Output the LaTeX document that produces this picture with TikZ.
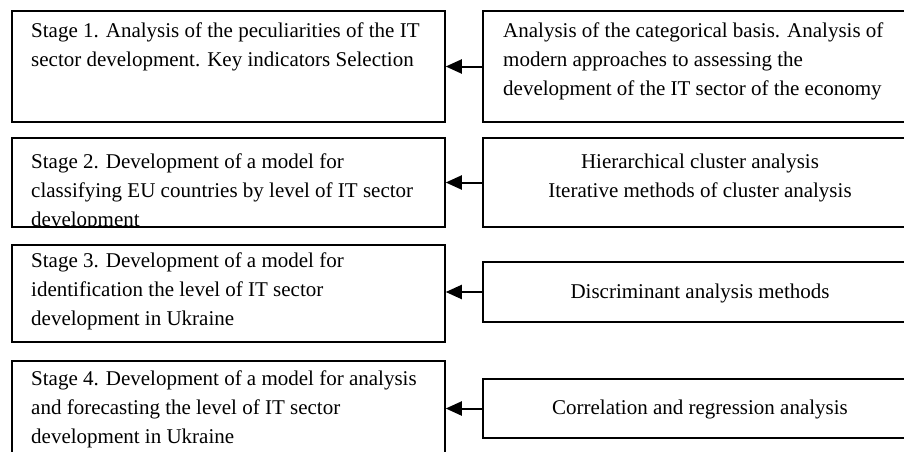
\documentclass[tikz,border=0pt]{standalone}
\usepackage{fontspec}
\setmainfont{Liberation Serif}
\usetikzlibrary{arrows.meta}

\newcommand{\tstrut}{\rule{0pt}{20pt}}

\begin{document}
\begin{tikzpicture}[x=1pt,y=1pt,yscale=-1,
  box/.style={draw, line width=1.5pt, inner sep=0pt},
  txt/.style={inner sep=0pt, font=\fontsize{21}{29}\selectfont},
  link/.style={line width=2pt, -{Triangle[length=16pt,width=14pt]}}]
\useasboundingbox (0,0) rectangle (904,452);
\clip (0,0) rectangle (904,452);

%Stage boxes
\node [box, minimum width=433pt, minimum height=111pt] (s1) at (228.5,66.5) {};
\node [box, minimum width=433pt, minimum height=89pt] (s2) at (228.5,182.5) {};
\node [box, minimum width=433pt, minimum height=97pt] (s3) at (228.5,293.5) {};
\node [box, minimum width=433pt, minimum height=119pt] (s4) at (228.5,420.5) {};
%Method boxes
\node [box, minimum width=434pt, minimum height=111pt] (m1) at (700,66.5) {};
\node [box, minimum width=434pt, minimum height=89pt] (m2) at (700,182.5) {};
\node [box, minimum width=434pt, minimum height=60pt] (m3) at (700,292) {};
\node [box, minimum width=434pt, minimum height=59pt] (m4) at (700,408.5) {};

%Arrows
\draw [link] (m1.west) -- (s1.east);
\draw [link] (m2.west) -- (s2.east);
\draw [link] (m3.west) -- (s3.east |- m3.west);
\draw [link] (m4.west) -- (s4.east |- m4.west);

% Text Node
\node [txt, anchor=north west, align=left] (t1) at (31,17) {\tstrut Stage 1. Analysis of the peculiarities of the IT\\sector development. Key indicators Selection};
% Text Node
\begin{scope}
\clip (12.75,138.75) rectangle (444.25,226.25);
\node [txt, anchor=north west, align=left] (t2) at (31,148) {\tstrut Stage 2. Development of a model for\\classifying EU countries by level of IT sector\\development};
\end{scope}
% Text Node
\node [txt, anchor=north west, align=left] (t3) at (31,247) {\tstrut Stage 3. Development of a model for\\identification the level of IT sector\\development in Ukraine};
% Text Node
\node [txt, anchor=north west, align=left] (t4) at (31,365) {\tstrut Stage 4. Development of a model for analysis\\and forecasting the level of IT sector\\development in Ukraine};
% Text Node
\node [txt, anchor=north west, align=left] (u1) at (503,17) {\tstrut Analysis of the categorical basis. Analysis of\\modern approaches to assessing the\\development of the IT sector of the economy};
% Text Node
\node [txt, anchor=north, align=center] (u2) at (700,148) {\tstrut Hierarchical cluster analysis\\Iterative methods of cluster analysis};
% Text Node
\node [txt, anchor=base] (u3) at (700,298) {Discriminant analysis methods};
% Text Node
\node [txt, anchor=base] (u4) at (700,414) {Correlation and regression analysis};

\end{tikzpicture}
\end{document}
